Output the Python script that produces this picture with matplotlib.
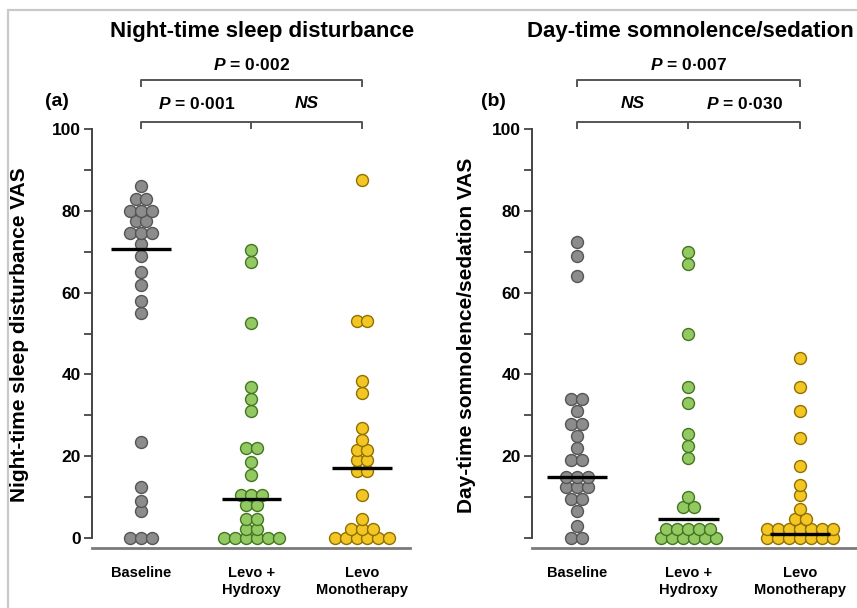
import matplotlib
matplotlib.use("Agg")
import matplotlib.pyplot as plt
from matplotlib.patches import Rectangle

plt.rcParams['font.family'] = ['Liberation Sans', 'DejaVu Sans']
plt.rcParams['font.weight'] = 'bold'
plt.rcParams['mathtext.fontset'] = 'custom'
plt.rcParams['mathtext.it'] = 'Liberation Sans:italic:bold'
plt.rcParams['mathtext.rm'] = 'Liberation Sans:bold'

# values (VAS, 0-100)
groups = ['Baseline', 'Levo +\nHydroxy', 'Levo\nMonotherapy']

night_baseline = [86, 83, 83, 80, 80, 80, 77.5, 77.5, 74.5, 74.5, 74.5, 72, 69, 65, 62,
                  58, 55, 23.5, 12.5, 9, 6.5, 0, 0, 0]
night_hydroxy = [70.5, 67.5, 52.5, 37, 34, 31, 22, 22, 18.5, 15.5, 10.5, 10.5, 10.5,
                 8, 8, 4.6, 4.6, 2.3, 2.3, 0, 0, 0, 0, 0, 0]
night_mono = [87.5, 53, 53, 38.5, 35.5, 27, 24, 21.5, 21.5, 19, 19, 16.5, 16.5, 10.5,
              4.6, 2.3, 2.3, 2.3, 0, 0, 0, 0, 0, 0]
night_medians = [70.7, 9.5, 17]

day_baseline = [72.5, 69, 64, 34, 34, 31, 28, 28, 25, 22, 19, 19, 15, 15, 15,
                12.5, 12.5, 12.5, 9.5, 9.5, 6.5, 3, 0, 0]
day_hydroxy = [70, 67, 50, 37, 33, 25.5, 22.5, 19.5, 10, 7.5, 7.5,
               2.3, 2.3, 2.3, 2.3, 2.3, 0, 0, 0, 0, 0, 0]
day_mono = [44, 37, 31, 24.5, 17.5, 13, 10.5, 7, 4.6, 4.6,
            2.3, 2.3, 2.3, 2.3, 2.3, 2.3, 2.3, 0, 0, 0, 0, 0, 0, 0]
day_medians = [14.8, 4.6, 1.0]

night_p = ['P = 0·002', 'P = 0·001', 'NS']
day_p = ['P = 0·007', 'NS', 'P = 0·030']

face_colors = ['#8c8c8c', '#93c963', '#f3c623']
edge_colors = ['#555555', '#44761f', '#8f7000']

W, H = 857, 608


def px_box(left, right, top, bottom):
    return [left / W, 1 - bottom / H, (right - left) / W, (bottom - top) / H]


def swarm(values, center, step=0.098):
    xs, ys = [], []
    for v in sorted(set(values)):
        n = values.count(v)
        for i in range(n):
            xs.append(center + (i - (n - 1) / 2) * step)
            ys.append(v)
    return xs, ys


def p_label(s):
    if s.startswith('P'):
        return '$P$' + s[1:]
    return s


def draw_panel(ax, data, medians, pvals, xlim, label_zero):
    for i, vals in enumerate(data):
        xs, ys = swarm(vals, i)
        ax.scatter(xs, ys, s=74, c=face_colors[i], edgecolors=edge_colors[i],
                   linewidths=1.0, zorder=3, clip_on=False)
        ax.plot([i - 0.27, i + 0.27], [medians[i], medians[i]], color='black',
                lw=2.4, zorder=4, solid_capstyle='butt')

    ax.set_xlim(*xlim)
    ax.set_ylim(-2.45, 126.7)
    ax.set_xticks([0, 1, 2])
    ax.set_xticklabels(groups, fontsize=10.5, fontweight='bold', linespacing=1.25)
    ax.tick_params(axis='x', length=0, pad=13)
    ax.set_yticks([0, 20, 40, 60, 80, 100])
    ax.set_yticks([10, 30, 50, 70, 90], minor=True)
    ylabels = ['0', '20', '40', '60', '80', '100'] if label_zero else ['', '20', '40', '60', '80', '100']
    ax.set_yticklabels(ylabels, fontsize=12.5, fontweight='bold')
    ax.tick_params(axis='y', which='both', length=6, width=1.3, color='#444444', pad=2)

    for side in ['top', 'right']:
        ax.spines[side].set_visible(False)
    ax.spines['left'].set_bounds(0, 100)
    ax.spines['left'].set_color('#444444')
    ax.spines['left'].set_linewidth(1.4)
    ax.spines['bottom'].set_color('#7a7a7a')
    ax.spines['bottom'].set_linewidth(2.0)

    # significance brackets
    bc = '#555555'
    ax.plot([0, 0, 2, 2], [110.5, 112, 112, 110.5], color=bc, lw=1.4, clip_on=False)
    ax.plot([0, 0, 2, 2], [100.3, 101.8, 101.8, 100.3], color=bc, lw=1.4, clip_on=False)
    ax.plot([1, 1], [101.8, 100.3], color=bc, lw=1.4, clip_on=False)
    ax.text(1, 115.8, p_label(pvals[0]), ha='center', va='center', fontsize=12.5,
            fontweight='bold')
    for j, xc in enumerate([0.5, 1.5]):
        s = pvals[j + 1]
        style = 'italic' if s == 'NS' else 'normal'
        ax.text(xc, 106.2, p_label(s), ha='center', va='center', fontsize=12.5,
                fontweight='bold', fontstyle=style)


fig = plt.figure(figsize=(W / 100, H / 100), dpi=100)

ax1 = fig.add_axes(px_box(92, 410, 20, 548))
draw_panel(ax1, [night_baseline, night_hydroxy, night_mono], night_medians, night_p,
           (-0.443, 2.434), True)

ax2 = fig.add_axes(px_box(532, 857, 20, 548))
draw_panel(ax2, [day_baseline, day_hydroxy, day_mono], day_medians, day_p,
           (-0.40, 2.51), False)

fig.text(262 / W, 1 - 31 / H, 'Night-time sleep disturbance', ha='center', va='center',
         fontsize=16, fontweight='bold')
fig.text(690 / W, 1 - 32 / H, 'Day-time somnolence/sedation', ha='center', va='center',
         fontsize=16, fontweight='bold')
fig.text(20 / W, 1 - 335 / H, 'Night-time sleep disturbance VAS', rotation=90,
         ha='center', va='center', fontsize=15, fontweight='bold')
fig.text(466 / W, 1 - 335 / H, 'Day-time somnolence/sedation VAS', rotation=90,
         ha='center', va='center', fontsize=15, fontweight='bold')
fig.text(57 / W, 1 - 102 / H, '(a)', ha='center', va='center', fontsize=14,
         fontweight='bold')
fig.text(493 / W, 1 - 102 / H, '(b)', ha='center', va='center', fontsize=14,
         fontweight='bold')

# outer frame of the figure
fig.add_artist(Rectangle((8 / W, -0.1), 1.2, 1.1 - 10 / H, transform=fig.transFigure,
                         fill=False, edgecolor='#c9c9c9', lw=1.6))

fig.savefig('out.png', dpi=100)
